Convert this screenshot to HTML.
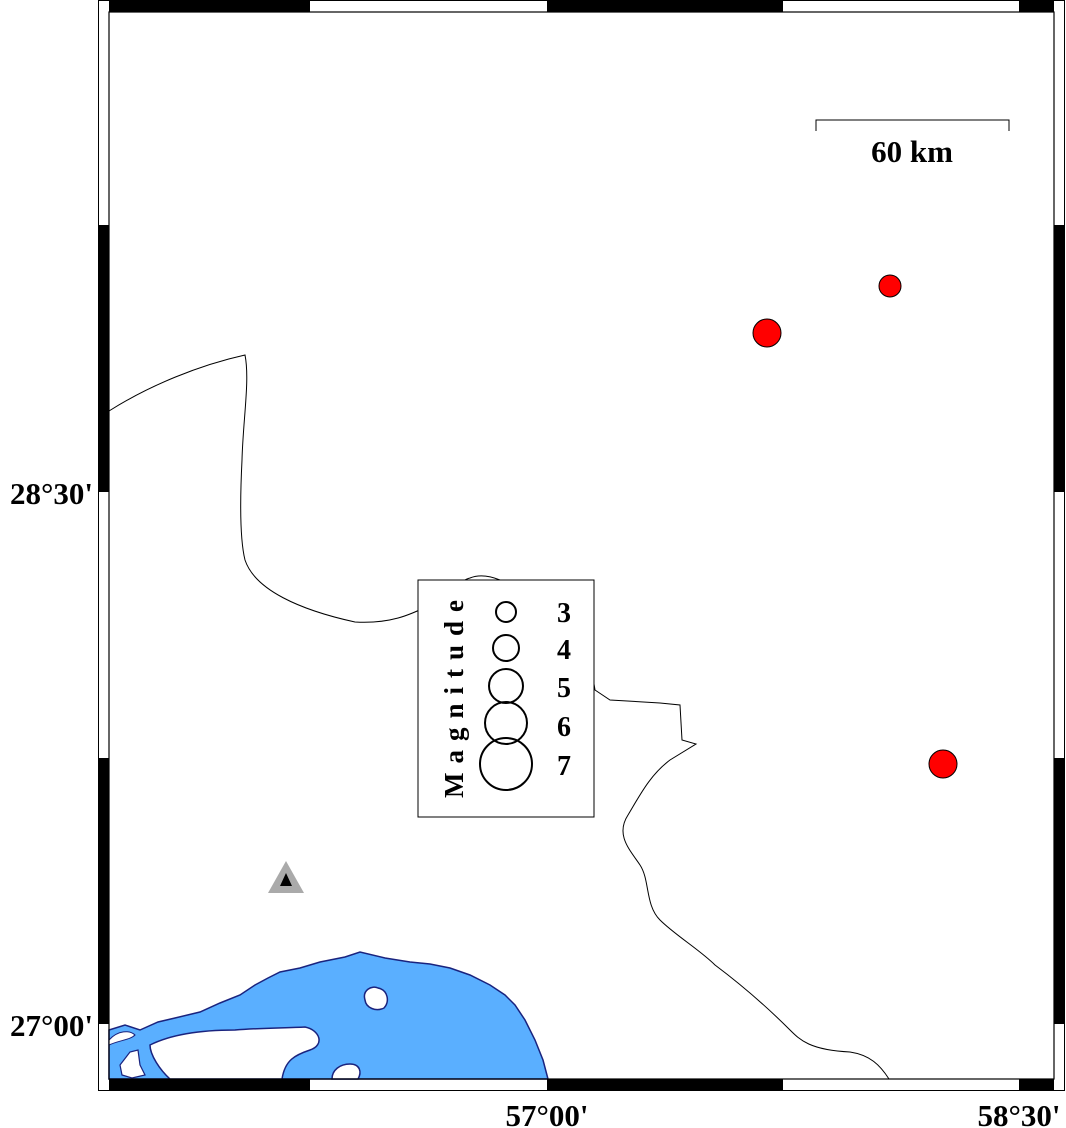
<!DOCTYPE html>
<html><head><style>
html,body{margin:0;padding:0;background:#fff;}
svg{display:block;}
text{font-family:"Liberation Serif",serif;font-weight:bold;}
</style></head><body>
<svg width="1066" height="1128" viewBox="0 0 1066 1128" xmlns="http://www.w3.org/2000/svg">
<rect width="1066" height="1128" fill="#fff"/>
<!-- sea -->
<path d="M109,1030 L125,1025 L140,1030 L158,1022 L175,1018 L200,1012 L220,1003 L240,995 L255,985 L268,978 L280,972 L300,968 L320,962 L345,957 L360,952 L385,958 L410,962 L430,964 L450,968 L470,975 L490,985 L505,995 L515,1005 L525,1020 L535,1040 L543,1060 L548,1079 L109,1079 Z" fill="#5aafff" stroke="#1a237e" stroke-width="1.5"/>
<path d="M150,1045 C170,1035 200,1030 235,1030 C260,1028 285,1028 305,1027 C320,1030 325,1045 310,1050 C295,1055 285,1060 282,1079 L170,1079 C160,1070 150,1055 150,1045 Z" fill="#fff" stroke="#1a237e" stroke-width="1.5"/>
<path d="M365,1000 C362,990 372,985 378,988 C388,990 390,1002 384,1008 C376,1012 366,1008 365,1000 Z" fill="#fff" stroke="#1a237e" stroke-width="1.5"/>
<path d="M332,1079 C332,1070 340,1064 350,1064 C360,1064 362,1072 358,1079 Z" fill="#fff" stroke="#1a237e" stroke-width="1.5"/>
<path d="M109,1040 C118,1030 130,1030 135,1035 C130,1040 120,1040 109,1045 Z" fill="#fff" stroke="#1a237e" stroke-width="1"/>
<path d="M120,1065 L130,1052 L138,1050 L140,1065 L145,1075 L132,1078 L122,1075 Z" fill="#fff" stroke="#1a237e" stroke-width="1.2"/>
<!-- border line -->
<path d="M109,411 C150,385 200,365 245,355 C250,380 243,420 242,460 C240,500 240,540 245,560 C255,590 300,610 355,622 C390,624 410,615 430,605 C450,595 460,580 470,578 C480,574 490,576 500,580 C520,580 535,584 560,602 L570,618 L575,640 L590,660 L595,690 L610,700 L660,703 L680,705 L682,740 L696,744 L670,760 C650,775 640,795 628,815 C615,835 630,850 640,865 C650,880 645,905 660,920 C675,935 700,950 715,965 C735,980 760,1000 790,1030 C800,1040 810,1050 850,1052 C870,1055 880,1065 889,1079" fill="none" stroke="#000" stroke-width="1"/>
<!-- frame -->
<rect x="98.5" y="0.5" width="966" height="1090" fill="none" stroke="#000" stroke-width="1"/>
<rect x="109" y="12" width="945" height="1067" fill="none" stroke="#000" stroke-width="1.2"/>
<g fill="#000">
<rect x="109" y="1" width="201" height="11"/><rect x="547" y="1" width="236" height="11"/><rect x="1019" y="1" width="35" height="11"/>
<rect x="109" y="1079" width="201" height="11"/><rect x="547" y="1079" width="236" height="11"/><rect x="1019" y="1079" width="35" height="11"/>
<rect x="99" y="225" width="10" height="267"/><rect x="99" y="758" width="10" height="266"/>
<rect x="1054" y="225" width="10" height="267"/><rect x="1054" y="758" width="10" height="266"/>
</g>
<!-- labels -->
<text x="93" y="504" font-size="31" text-anchor="end">28°30'</text>
<text x="93" y="1036" font-size="31" text-anchor="end">27°00'</text>
<text x="547" y="1126" font-size="31" text-anchor="middle">57°00'</text>
<text x="1019" y="1126" font-size="31" text-anchor="middle">58°30'</text>
<!-- scale -->
<path d="M816,131 V120 H1009 V131" fill="none" stroke="#000" stroke-width="1"/>
<text x="912" y="162" font-size="31" text-anchor="middle">60 km</text>
<!-- events -->
<circle cx="767" cy="333" r="14" fill="#f00" stroke="#000" stroke-width="1"/>
<circle cx="890" cy="286" r="11" fill="#f00" stroke="#000" stroke-width="1"/>
<circle cx="943" cy="764" r="14" fill="#f00" stroke="#000" stroke-width="1"/>
<!-- station -->
<polygon points="286,861 268,893 304,893" fill="#aaa"/>
<polygon points="286,873 280,886 292,886" fill="#000"/>
<!-- legend -->
<rect x="418" y="580" width="176" height="237" fill="#fff" stroke="#000" stroke-width="1"/>
<g fill="none" stroke="#000" stroke-width="2">
<circle cx="506" cy="612" r="10"/><circle cx="506" cy="648" r="13"/><circle cx="506" cy="686" r="17"/><circle cx="506" cy="723" r="21"/><circle cx="506" cy="764" r="26"/>
</g>
<g font-size="28">
<text x="557" y="622">3</text><text x="557" y="659">4</text><text x="557" y="697">5</text><text x="557" y="736">6</text><text x="557" y="775">7</text>
</g>
<text transform="translate(463,798) rotate(-90)" font-size="27" letter-spacing="9">Magnitude</text>
</svg>
</body></html>
